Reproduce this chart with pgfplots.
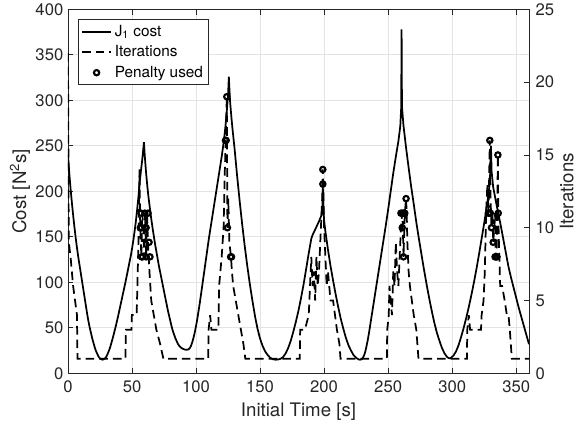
\documentclass[border=0pt]{standalone}
\usepackage{fontspec}
\setmainfont{TeX Gyre Heros}
\usepackage{pgfplots}
\pgfplotsset{compat=1.18}
\usepackage{pgfplotstable}

\pgfplotstableread{
t c
0 240
1 220
2 203
3 188
4 174
5 161
6 149
7 138
8 128
9 119
10 110
11 101
12 92
13 83
14 74
15 65
16 57
17 50
18 44
19 38
20 33
21 28
22 24
23 21
24 18
25 16.5
26 15.5
27 15
28 15.5
29 16.5
30 18.5
31 21.5
32 25
33 29
34 34
35 39
36 44.5
37 50
38 56
39 62
40 68.5
41 75
42 81.5
43 88
44 94.5
45 101
46 108
47 115
48 122
49 129
50 137
51 146
52 156
53 167
54 180
55 194
56 210
57 223
58 235
59.3 254
60 238
61 220
62 205
63 192
64 181
65 170
66 160
67 151
68 142
69 134
70 126
71 118
72 111
73 104
74 97
75 90
76 83
77 76
78 69
79 63
80 57
81 51
82 46
83 42
84 38
85 35
86 32
87 30
88 28.5
89 27.5
90 26.8
91 26.2
92 26
93 26
94 26.3
95 27.5
96 30
97 34
98 39
99 45
100 52
101 60
102 69
103 78
104 88
105 98
106 108
107 118
108 128
109 138
110 148
111 157
112 166
113 175
114 184
115 193
116 202
117 211
118 220
119 229
120 238
121 248
122 259
123 272
124 288
125 306
125.6 326
126.5 300
127.5 283
128.5 268
130 248
132 218
134 190
136 164
138 140
140 118
142 98
144 80
146 63
148 49
150 38
152 30
154 24
156 20
158 17
160 15.5
162 15
164 15.2
166 16
168 18
170 22
172 28
174 36
176 46
178 57
180 69
182 83
184 98
186 115
188 132
190 148
191 152
192 155
194 161
196 167
198 174
198.7 185
199 205
199.4 182
200 168
201 156
203 136
205 118
207 102
209 87
211 73
213 60
215 49
217 39
219 31
221 25
223 20
225 17
227 15.3
228 15
229 15.2
230 16.5
231 19
232 23
233 29
234 36
235 44
236 53
238 71
240 89
242 107
244 125
246 143
248 161
250 180
252 200
254 220
256 238
258 255
259.5 272
260.2 292
260.5 378
260.8 293
262 272
263 260
264 248
266 226
268 205
270 186
272 166
274 148
276 131
278 114
280 98
282 83
284 69
286 56
288 45
290 36
292 28
294 22
296 18
297 17
298 16.5
299 17
301 19.5
303 24
305 31
307 40
309 50
311 61
313 73
315 86
317 100
319 115
321 131
323 148
325 165
327 183
328.5 198
329.5 212
330.3 250
330.8 222
332 205
334 190
336 176
338 162
340 147
342 132
344 117
346 105
348 94
350 83
352 72
354 62
356 52
358 42
360 32
}\costtable

\pgfplotstableread{
t n
0 22
0.6 9
2 8
3 7
4 6
5.5 5
7 4
7.4 1
44.8 1
45.2 3
49.5 3
49.9 4
53.6 4
54.2 6
55 9
55.8 14
56.4 10
57.3 8
58 11
58.8 10
59.4 8
60.2 11
61 8
61.8 11
62.4 9
63 8
63.6 7
65 5
67 4
69 3
72 2
74.5 1
109.5 1
109.8 3
111 4
112 3
117.4 3
118 6
120 8
121.5 10
122.5 14
123.2 16
124 19
124.5 10
125.2 12
126 9
127.3 8
128 7
129 6
131 5
133 4
135 3
137 2
138.5 1
181 1
181.3 3
185 3
188 4
188.5 5
190 8
191 6
192 7
193 5
194 8
195 6
196 7
197 9
198.5 12
199 14
199.3 13
200 10
201 8
202 6
203 7
204 6
205 5
207 5
208.5 4
210 3
212 2
212.8 1
249 1
249.3 3
250.5 4
251 6
252 5
253 4
254 7
255 6
256 9
257 7
258 6
259 8
260 10
261 11
261.5 10
262 8
263 11
264 12
264.5 11
265 9
266 7
267 6
268.5 5
270 4
272 3
273.7 1
311.5 1
311.8 3
313 4
314 3
322.5 3
323 4
324.5 5
325.5 7
326.5 11
327.5 13
328.4 11
329.4 16
330 12
330.7 10
331.5 11
332 9
333 10
333.5 11
334 8
334.7 8
335.7 15
336 11
336.5 9
337.5 6
339 6
341 5
342.7 4
344 4
345 3
346.6 1
360 1
}\itertable

\pgfplotstableread{
t n
57 11
60 11
62.5 11
56.5 10
57.3 10
60.3 10
61 10
63.3 9
57.5 8
58.1 8
61 8
64 8
124 19
123 16
123.5 16
124.5 10
127 8
127.7 8
199 14
199 13
260 11
261 11
262 11
263 11
261 10
262 8
264 12
329.4 16
335.7 15
328.3 11
329 11
329.8 11
336 11
330.7 10
332 9
333.5 8
334.2 8
335 8
}\pentable

\begin{document}
\begin{tikzpicture}
\pgfplotsset{
  common/.style={
    width=345.75pt, height=273pt, scale only axis,
    xmin=0, xmax=360,
    /pgf/number format/assume math mode=true,
    tick label style={font=\fontsize{12.5}{14}\selectfont, text=black!85},
    label style={font=\fontsize{14}{16}\selectfont, text=black!85},
    tick align=inside, major tick length=4pt,
    axis line style={black!85, line width=0.6pt},
    every tick/.style={black!85, line width=0.6pt},
  },
}
\begin{axis}[common, name=ax,
  ymin=0, ymax=400,
  xtick={0,50,...,350}, ytick={0,50,...,400},
  grid=major, major grid style={gray!22, line width=0.6pt},
  ytick pos=left, xtick pos=both,
  xlabel={Initial Time [s]},
  ylabel={Cost [N\textsuperscript{2}s]},
  xlabel style={at={(axis description cs:0.5,-0.104)}, anchor=center},
  ylabel style={at={(axis description cs:-0.104,0.5)}, anchor=center},
  xticklabel style={yshift=-2pt},
]
\addplot[black, line width=1.3pt] table[x=t, y=c] {\costtable};
\end{axis}
\begin{axis}[common,
  ymin=0, ymax=25,
  axis y line*=right, axis x line=none,
  ytick={0,5,...,25},
  yticklabel style={xshift=1.5pt},
  ylabel={Iterations},
  ylabel style={at={(axis description cs:1.082,0.5)}, anchor=center},
  legend cell align=left,
  legend style={at={(axis description cs:0.0217,0.9725)}, anchor=north west,
    draw=black!85, line width=0.6pt, fill=white,
    font=\fontsize{11.5}{13}\selectfont, inner sep=2pt, row sep=1.5pt},
  legend image code/.code={\draw[mark repeat=2,mark phase=2,#1] plot coordinates {(0pt,0pt) (11pt,0pt) (22pt,0pt)};},
]
\addlegendimage{black, line width=1.3pt}
\addlegendentry{J\textsubscript{1} cost}
\addplot[black, line width=1.3pt, dash pattern=on 6.5pt off 3.75pt] table[x=t, y=n] {\itertable};
\addlegendentry{Iterations}
\addplot[only marks, mark=o, mark size=2pt, black, line width=1.6pt] table[x=t, y=n] {\pentable};
\addlegendentry{Penalty used}
\end{axis}
\pgfresetboundingbox
\path[use as bounding box] ([xshift=-51pt,yshift=-41.8pt]ax.south west) rectangle ([xshift=36pt,yshift=7pt]ax.north east);
\end{tikzpicture}
\end{document}
